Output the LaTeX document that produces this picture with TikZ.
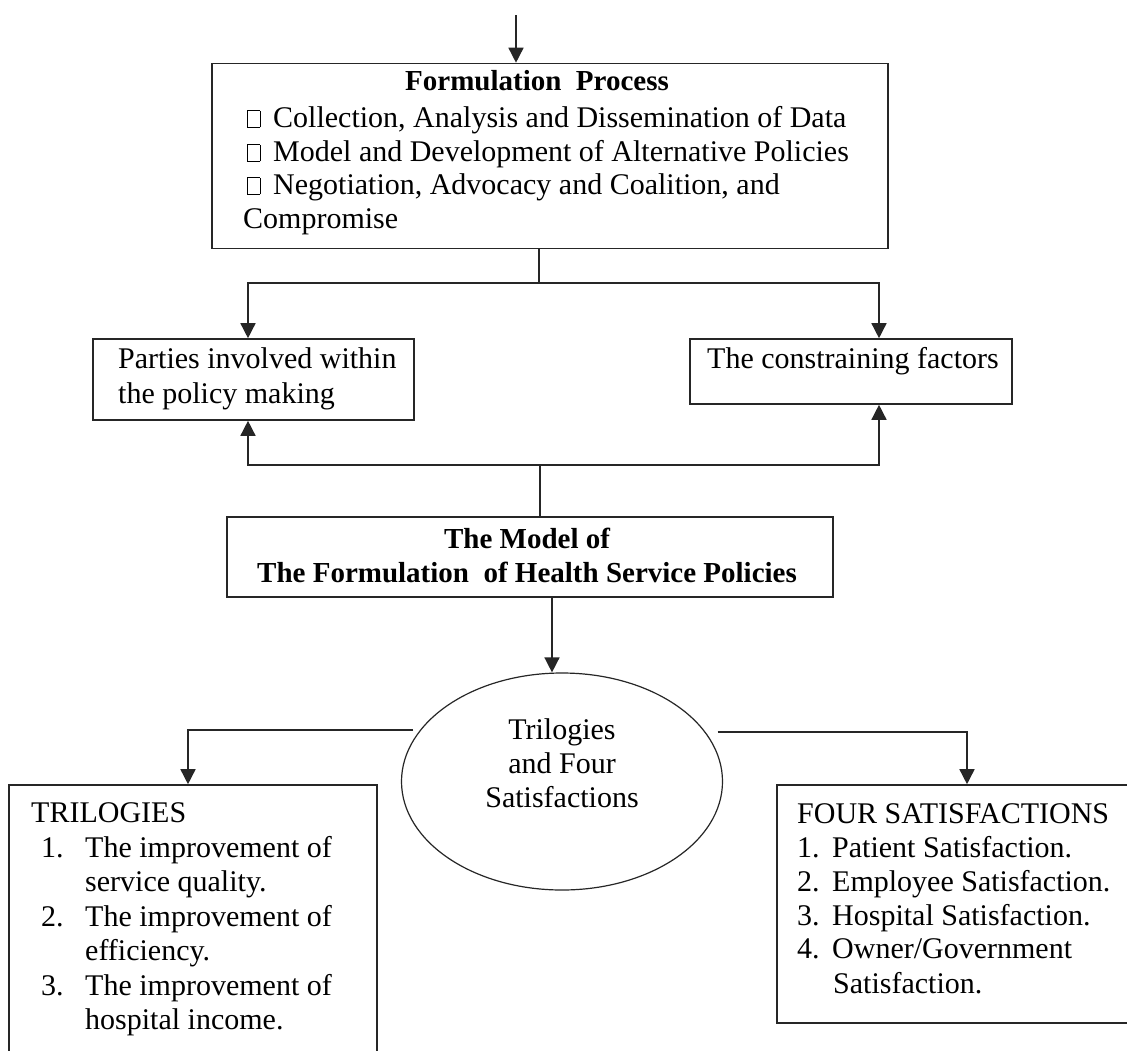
\documentclass[tikz,border=0pt]{standalone}
\usepackage{fontspec}
\setmainfont{Liberation Serif}
\usetikzlibrary{arrows.meta,shapes.geometric}
\begin{document}
\begin{tikzpicture}[x=1pt,y=-1pt,
  box/.style={draw=black!85, line width=1.6pt, inner sep=0pt},
  txt/.style={inner sep=0pt, anchor=base west, font=\fontsize{30}{34}\selectfont},
  ctxt/.style={inner sep=0pt, anchor=base, font=\fontsize{30}{34}\selectfont},
  btxt/.style={inner sep=0pt, anchor=base, font=\fontsize{29}{34}\selectfont\bfseries},
  ln/.style={draw=black!85, line width=1.5pt},
  arr/.style={ln, -{Triangle[length=15pt,width=15pt]}}]
\clip (0,0) rectangle (1127,1050);
\fill[white] (0,0) rectangle (1127,1050);
\newcommand{\bx}{{\setlength{\fboxsep}{0pt}\setlength{\fboxrule}{0.7pt}\fbox{\rule{0pt}{16pt}\hspace{11.6pt}}}}
% boxes
\node[box, minimum width=676, minimum height=185] (fp) at (550,156) {};
\node[box, minimum width=321, minimum height=81] (parties) at (253.5,379.5) {};
\node[box, minimum width=322, minimum height=65] (constr) at (851,371.5) {};
\node[box, minimum width=606, minimum height=80] (model) at (530,557) {};
\node[draw=black!85, line width=1.2pt, ellipse, minimum width=321, minimum height=217, inner sep=0pt] (ell) at (562,781.5) {};
\node[box, minimum width=368, minimum height=300] (tri) at (193,935) {};
\node[box, minimum width=380, minimum height=238] (four) at (967,904) {};
% texts
\node[btxt] (fph) at (537,90) {Formulation\ \ Process};
\node[txt] (fp1) at (247,127) {\bx\hspace{13pt}Collection, Analysis and Dissemination of Data};
\node[txt] (fp2) at (247,161) {\bx\hspace{13pt}Model and Development of Alternative Policies};
\node[txt] (fp3) at (247,194) {\bx\hspace{13pt}Negotiation, Advocacy and Coalition, and};
\node[txt] (fp4) at (243,228) {Compromise};
\node[txt] (pt1) at (118,368) {Parties involved within};
\node[txt] (pt2) at (118,403) {the policy making};
\node[txt] (ct1) at (707,368) {The constraining factors};
\node[btxt] (md1) at (527,548) {The Model of};
\node[btxt] (md2) at (527,582) {The Formulation\ \ of Health Service Policies};
\node[ctxt] (el1) at (562,739) {Trilogies};
\node[ctxt] (el2) at (562,773) {and Four};
\node[ctxt] (el3) at (562,807) {Satisfactions};
\node[txt] (trh) at (31,822) {TRILOGIES};
\node[txt] (tr1n) at (41,857) {1.};
\node[txt] (tr1) at (85,857) {The improvement of};
\node[txt] (tr1b) at (85,891) {service quality.};
\node[txt] (tr2n) at (41,926) {2.};
\node[txt] (tr2) at (85,926) {The improvement of};
\node[txt] (tr2b) at (85,960) {efficiency.};
\node[txt] (tr3n) at (41,995) {3.};
\node[txt] (tr3) at (85,995) {The improvement of};
\node[txt] (tr3b) at (85,1029) {hospital income.};
\node[txt] (foh) at (797,823) {FOUR SATISFACTIONS};
\node[txt] (fo1) at (797,857) {1.\ \,Patient Satisfaction.};
\node[txt] (fo2) at (797,891) {2.\ \,Employee Satisfaction.};
\node[txt] (fo3) at (797,925) {3.\ \,Hospital Satisfaction.};
\node[txt] (fo4) at (797,958) {4.\ \,Owner/Government};
\node[txt] (fo5) at (833,993) {Satisfaction.};
% connectors
\coordinate (start) at (516,15);
\draw[arr] (start) -- (start |- fp.north);
\coordinate (j1) at (539,283);
\draw[ln] (fp.south -| j1) -- (j1);
\draw[arr] (j1) -| ([xshift=-5.5pt]parties.north);
\draw[arr] (j1) -| ([xshift=28pt]constr.north);
\coordinate (j2) at (540,465);
\draw[ln] (model.north -| j2) -- (j2);
\draw[arr] (j2) -| ([xshift=-5.5pt]parties.south);
\draw[arr] (j2) -| ([xshift=28pt]constr.south);
\draw[arr] ([xshift=22pt]model.south) -- ([xshift=22pt]model.south |- ell.north);
\draw[arr] ([xshift=-7pt]ell.160.4) -| ([xshift=-5pt]tri.north);
\draw[arr] ([xshift=12pt]ell.19.6) -| (four.north);
\end{tikzpicture}
\end{document}
